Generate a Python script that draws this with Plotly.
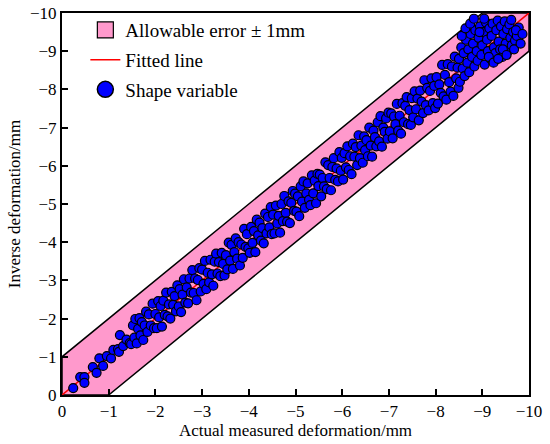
import plotly.graph_objects as go

# Allowable error band (mm) and fitted line
band_x = [0, -9, -10, -10, -1, 0, 0]
band_y = [-1, -10, -10, -9, 0, 0, -1]
fit_x = [0, -10]
fit_y = [0, -10]

# Shape variable points: actual measured deformation (mm)
actual_mm = [
    -0.24, -0.39, -0.48, -0.48, -0.66, -0.74, -0.80, -0.88, -0.96, -1.05, -1.10, -1.20, -1.22, -1.24, -1.31, -1.38, -1.45,
    -1.48, -1.52, -1.55, -1.57, -1.60, -1.63, -1.66, -1.68, -1.71, -1.74, -1.77, -1.80, -1.83, -1.86, -1.90, -1.94, -1.97,
    -2.00, -2.03, -2.06, -2.08, -2.11, -2.14, -2.17, -2.20, -2.23, -2.26, -2.29, -2.32, -2.35, -2.38, -2.41, -2.44, -2.47,
    -2.50, -2.52, -2.55, -2.58, -2.61, -2.64, -2.67, -2.70, -2.73, -2.76, -2.79, -2.82, -2.85, -2.88, -2.91, -2.94, -2.97,
    -3.00, -3.03, -3.06, -3.09, -3.12, -3.15, -3.18, -3.21, -3.24, -3.27, -3.30, -3.33, -3.36, -3.39, -3.42, -3.45, -3.48,
    -3.51, -3.54, -3.57, -3.60, -3.63, -3.66, -3.69, -3.72, -3.75, -3.78, -3.81, -3.84, -3.87, -3.90, -3.93, -3.96, -3.99,
    -4.02, -4.05, -4.08, -4.11, -4.14, -4.17, -4.20, -4.23, -4.26, -4.29, -4.32, -4.35, -4.38, -4.41, -4.44, -4.47, -4.49,
    -4.52, -4.55, -4.58, -4.61, -4.64, -4.67, -4.70, -4.73, -4.76, -4.79, -4.82, -4.85, -4.88, -4.91, -4.94, -4.97, -4.99,
    -5.02, -5.05, -5.08, -5.11, -5.14, -5.17, -5.20, -5.23, -5.26, -5.29, -5.32, -5.35, -5.38, -5.41, -5.44, -5.47, -5.49,
    -5.52, -5.55, -5.58, -5.61, -5.64, -5.67, -5.70, -5.73, -5.76, -5.79, -5.82, -5.85, -5.88, -5.91, -5.94, -5.97, -5.99,
    -6.02, -6.05, -6.08, -6.11, -6.14, -6.17, -6.20, -6.23, -6.26, -6.29, -6.32, -6.35, -6.38, -6.41, -6.44, -6.47, -6.49,
    -6.52, -6.55, -6.58, -6.61, -6.64, -6.67, -6.70, -6.73, -6.76, -6.79, -6.82, -6.85, -6.88, -6.91, -6.94, -6.97, -6.99,
    -7.02, -7.05, -7.08, -7.11, -7.14, -7.17, -7.20, -7.23, -7.26, -7.29, -7.32, -7.35, -7.38, -7.41, -7.44, -7.47, -7.49,
    -7.52, -7.55, -7.58, -7.61, -7.64, -7.67, -7.70, -7.73, -7.76, -7.79, -7.82, -7.85, -7.88, -7.91, -7.94, -7.97, -7.99,
    -8.02, -8.05, -8.08, -8.11, -8.14, -8.17, -8.20, -8.23, -8.26, -8.29, -8.32, -8.35, -8.38, -8.41, -8.44, -8.47, -8.49,
    -8.50, -8.52, -8.55, -8.58, -8.60, -8.62, -8.65, -8.68, -8.70, -8.72, -8.75, -8.78, -8.80, -8.83, -8.85, -8.88, -8.90, -8.92, -8.95, -8.98,
    -9.00, -9.02, -9.05, -9.08, -9.10, -9.12, -9.15, -9.18, -9.20, -9.22, -9.25, -9.28, -9.30, -9.33, -9.35, -9.38, -9.40, -9.43, -9.45, -9.48,
    -9.50, -9.53, -9.55, -9.58, -9.60, -9.63, -9.66, -9.70, -9.74, -9.78,
    -8.56, -8.64, -8.74, -8.82, -8.94, -9.04, -9.14, -9.24, -9.34, -9.44, -9.52, -9.62, -9.68, -9.72, -9.82, -9.86,
]
# Shape variable points: inverse deformation (mm)
inverse_mm = [
    -0.18, -0.47, -0.47, -0.32, -0.73, -0.58, -0.96, -0.76, -1.02, -0.96, -1.18, -1.20, -1.13, -1.57, -1.28, -1.45, -1.36,
    -1.33, -1.82, -1.50, -1.99, -1.35, -1.73, -2.01, -1.56, -1.91, -1.44, -1.82, -2.18, -1.65, -2.11, -1.82, -2.39, -1.75,
    -2.12, -1.75, -2.46, -2.03, -2.33, -1.79, -2.47, -2.10, -2.68, -2.06, -2.37, -2.00, -2.70, -2.36, -2.59, -2.19, -2.87,
    -2.32, -2.77, -2.17, -2.63, -3.03, -2.42, -2.82, -2.40, -3.05, -2.68, -3.27, -2.67, -3.05, -2.48, -3.01, -3.32, -2.71,
    -3.28, -2.91, -3.51, -2.77, -3.20, -2.95, -3.54, -3.16, -2.86, -3.49, -3.70, -3.18, -3.48, -3.11, -3.72, -3.43, -3.13,
    -3.66, -3.29, -3.99, -3.52, -3.93, -3.30, -3.74, -4.10, -3.57, -4.00, -3.39, -3.94, -3.59, -4.35, -3.88, -4.21, -3.84,
    -3.72, -4.40, -3.98, -4.29, -3.74, -4.59, -4.18, -4.51, -4.04, -4.37, -3.97, -4.75, -4.23, -4.66, -4.39, -4.92, -4.21,
    -4.72, -4.23, -4.96, -4.49, -4.69, -4.25, -5.00, -4.55, -5.21, -4.77, -4.54, -5.07, -4.50, -5.03, -5.34, -4.82, -5.27,
    -4.80, -5.20, -4.68, -5.46, -5.06, -5.59, -4.90, -5.28, -5.54, -5.11, -4.97, -5.75, -5.28, -5.61, -5.02, -5.79, -5.47,
    -5.77, -5.20, -5.68, -5.46, -6.09, -5.39, -6.02, -5.68, -5.36, -5.97, -6.20, -5.63, -5.93, -5.59, -6.36, -5.87, -6.21,
    -5.64, -6.33, -5.96, -6.51, -5.89, -6.25, -5.78, -6.58, -6.24, -6.49, -6.02, -6.80, -6.20, -6.53, -6.08, -6.77, -6.41,
    -6.67, -6.25, -7.00, -6.53, -6.24, -6.92, -6.75, -6.51, -7.14, -6.64, -7.30, -6.50, -7.00, -6.89, -7.24, -6.71, -7.39,
    -6.90, -7.37, -6.72, -7.29, -7.09, -7.62, -6.92, -7.31, -6.84, -7.64, -7.14, -7.57, -7.80, -7.09, -7.46, -7.07, -7.77,
    -7.27, -7.95, -7.48, -7.76, -7.19, -7.97, -7.68, -7.38, -8.24, -7.59, -8.04, -7.45, -7.96, -8.29, -7.64, -8.09, -7.51,
    -8.32, -7.63, -8.13, -7.91, -8.64, -7.82, -8.38, -7.73, -8.66, -8.19, -7.94, -8.60, -7.83, -8.86, -8.29, -8.57, -8.04,
    -8.80, -8.20, -9.10, -8.55, -8.95, -8.35, -9.30, -8.70, -9.05, -8.45, -9.45, -8.85, -9.20, -8.60, -9.55, -9.00, -8.75, -9.35, -9.65, -8.90,
    -9.15, -9.50, -8.65, -9.75, -9.30, -9.00, -9.60, -8.80, -9.40, -9.72, -9.10, -8.95, -9.55, -9.80, -9.25, -9.05, -9.65, -8.85, -9.45, -9.78,
    -9.20, -9.58, -9.00, -9.70, -9.35, -9.15, -9.50, -9.28, -9.40, -9.62,
    -9.40, -9.60, -9.72, -9.85, -9.50, -9.85, -8.85, -8.70, -8.80, -9.05, -8.90, -9.82, -9.05, -9.55, -9.20, -9.45,
]

x_ticks = [0, -1, -2, -3, -4, -5, -6, -7, -8, -9, -10]
y_ticks = [0, -1, -2, -3, -4, -5, -6, -7, -8, -9, -10]

FONT = "Liberation Serif, Times New Roman, serif"
PINK = "#FF99CC"

fig = go.Figure()
fig.add_trace(go.Scatter(
    x=band_x, y=band_y, mode="lines", fill="toself",
    fillcolor=PINK, line=dict(color="black", width=1.5),
    showlegend=False, hoverinfo="skip",
))
fig.add_trace(go.Scatter(
    x=[None], y=[None], mode="markers",
    marker=dict(symbol="square", color=PINK, size=20, line=dict(color="black", width=1.2)),
    name="Allowable error ± 1mm", legendgroup="a",
))
fig.add_trace(go.Scatter(
    x=fit_x, y=fit_y, mode="lines", line=dict(color="#FF0000", width=1.5),
    name="Fitted line", legendgroup="b",
))
fig.add_trace(go.Scatter(
    x=actual_mm, y=inverse_mm, mode="markers",
    marker=dict(color="#0000FF", size=9, line=dict(color="black", width=1.2)),
    showlegend=False, hoverinfo="x+y",
))
fig.add_trace(go.Scatter(
    x=[None], y=[None], mode="markers",
    marker=dict(color="#0000FF", size=20, line=dict(color="black", width=1.5)),
    name="Shape variable", legendgroup="c",
))

axis_common = dict(
    showgrid=False, zeroline=False, showline=True, linecolor="black", linewidth=2,
    mirror=True, ticks="inside", ticklen=6, tickwidth=1.5, tickcolor="black",
    tickfont=dict(family=FONT, size=17, color="black"), automargin=False,
)
fig.update_xaxes(
    range=[0, -10], tickvals=x_ticks,
    title=dict(text="Actual measured deformation/mm", font=dict(family=FONT, size=17, color="black"), standoff=0),
    **axis_common,
)
fig.update_yaxes(
    range=[0, -10], tickvals=y_ticks,
    title=dict(text="Inverse deformation/mm", font=dict(family=FONT, size=17, color="black"), standoff=5),
    **axis_common,
)
fig.update_layout(
    width=550, height=444,
    margin=dict(l=62, r=21, t=13, b=49, autoexpand=False),
    plot_bgcolor="white", paper_bgcolor="white",
    font=dict(family=FONT, color="black"),
    legend=dict(
        x=0.05, y=1.005, xanchor="left", yanchor="top",
        bgcolor="rgba(0,0,0,0)", borderwidth=0,
        font=dict(family=FONT, size=19, color="black"),
        traceorder="grouped", tracegroupgap=2, itemsizing="trace",
    ),
)
fig.write_html(
    "out.html",
    config={"displayModeBar": False},
    post_script="document.body.style.margin='0px';",
)
